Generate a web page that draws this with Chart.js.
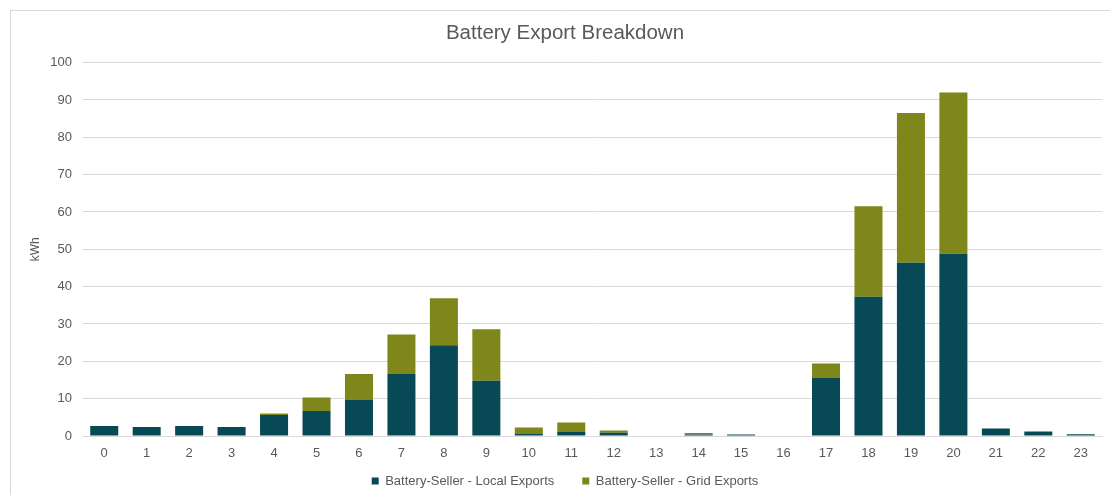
<!DOCTYPE html>
<html>
<head>
<meta charset="utf-8">
<script src="https://cdn.jsdelivr.net/npm/chart.js@4"></script>
<style>
    html, body { margin: 0; padding: 0; background: #ffffff; overflow: hidden; }
    canvas { display: block; }
</style>
</head>
<body>
<canvas id="chart" width="1110" height="495"></canvas>
<script>
// ---- Data -----------------------------------------------------------------
const hours = ["0", "1", "2", "3", "4", "5", "6", "7", "8", "9", "10", "11",
               "12", "13", "14", "15", "16", "17", "18", "19", "20", "21", "22", "23"];
const localExports = [2.7, 2.4, 2.7, 2.4, 5.6, 6.7, 9.8, 16.6, 24.3, 14.8, 0.7, 1.2,
                      0.9, 0, 0.4, 0.4, 0, 15.5, 37.3, 46.4, 48.8, 2.0, 1.2, 0.5];
const gridExports  = [0, 0, 0, 0, 0.4, 3.6, 6.8, 10.6, 12.6, 13.8, 1.6, 2.4,
                      0.6, 0, 0.4, 0, 0, 3.9, 24.2, 40.1, 43.2, 0, 0, 0];
const yTicks = [0, 10, 20, 30, 40, 50, 60, 70, 80, 90, 100];

const TEXT = "#595959";
const GRID = "#d9d9d9";
const FONT = "'Liberation Sans', Arial, sans-serif";

// light frame on the left and top edges, like the exported chart box
const framePlugin = {
    id: "frame",
    beforeDraw(chart) {
        const ctx = chart.ctx;
        ctx.save();
        ctx.strokeStyle = GRID;
        ctx.lineWidth = 1;
        ctx.beginPath();
        ctx.moveTo(10.5, chart.height);
        ctx.lineTo(10.5, 10.5);
        ctx.lineTo(chart.width, 10.5);
        ctx.stroke();
        ctx.restore();
    },
};

new Chart(document.getElementById("chart"), {
    type: "bar",
    data: {
        labels: hours,
        datasets: [
            { label: "Battery-Seller - Local Exports", data: localExports,
              backgroundColor: "#074a56", barPercentage: 0.66, categoryPercentage: 1 },
            { label: "Battery-Seller - Grid Exports", data: gridExports,
              backgroundColor: "#7f861a", barPercentage: 0.66, categoryPercentage: 1 },
        ],
    },
    plugins: [framePlugin],
    options: {
        responsive: false,
        animation: false,
        // the source box runs past the right edge, so title/legend sit right of centre
        layout: { padding: { left: 28, right: 8, top: 0, bottom: -2.5 } },
        plugins: {
            title: { display: true, text: "Battery Export Breakdown", color: TEXT,
                     font: { family: FONT, size: 20.5, weight: "normal" },
                     padding: { top: 21, bottom: 17 } },
            legend: { position: "bottom",
                      labels: { color: TEXT, boxWidth: 7, boxHeight: 7, padding: 28,
                                font: { family: FONT, size: 13 } } },
            tooltip: { enabled: false },
        },
        scales: {
            x: { stacked: true,
                 grid: { display: false },
                 border: { color: GRID },
                 // mirror keeps the labels from being clipped to the slim axis box
                 ticks: { color: TEXT, mirror: true, padding: -25, autoSkip: false, maxRotation: 0,
                          font: { family: FONT, size: 13 } },
                 afterFit: (s) => { s.height = 10.5; } },
            y: { stacked: true, min: 0, max: 100,
                 afterBuildTicks: (s) => { s.ticks = yTicks.map((v) => ({ value: v })); },
                 grid: { color: GRID, drawTicks: false },
                 border: { display: false },
                 ticks: { color: TEXT, padding: 11, font: { family: FONT, size: 13 } },
                 title: { display: true, text: "kWh", color: TEXT,
                          font: { family: FONT, size: 12 }, padding: { top: 0, bottom: 0 } },
                 afterFit: (s) => { s.width = 55; } },
        },
    },
});
</script>
</body>
</html>
